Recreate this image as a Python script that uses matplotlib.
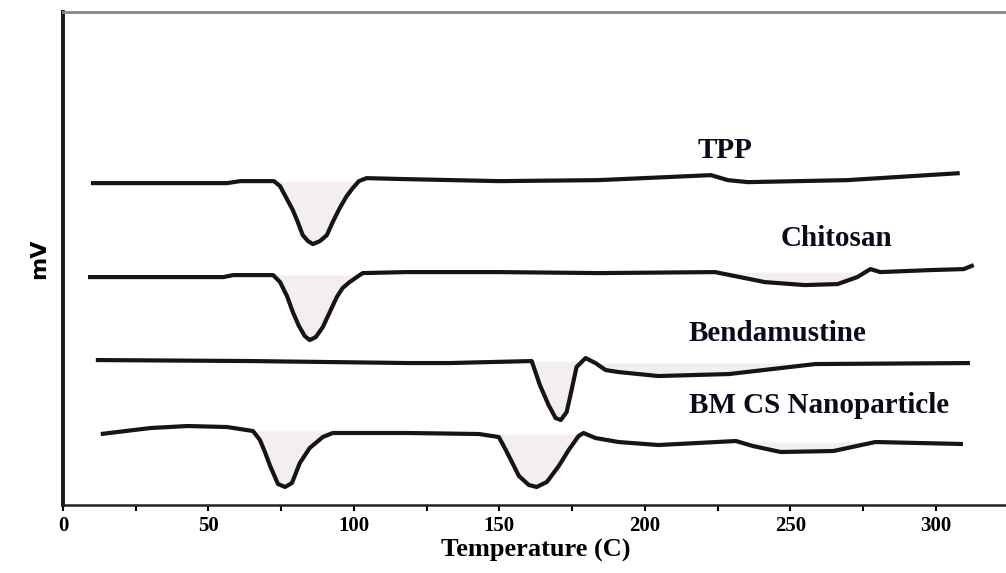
import matplotlib
matplotlib.use('Agg')
import matplotlib.pyplot as plt
import numpy as np

# DSC traces (temperature in C, signal in arbitrary mV units)
t_tpp = [9.6, 56.4, 60.9, 72.5, 74.6, 79.0, 80.7, 82.4, 84.2, 85.9, 88.3, 90.7, 92.7,
         95.1, 97.5, 99.6, 101.7, 104.3, 118.0, 149.8, 184.1, 222.7, 228.5, 235.4,
         269.6, 308.2]
v_tpp = [3.22, 3.22, 3.24, 3.24, 3.19, 2.95, 2.83, 2.70, 2.64, 2.61, 2.64, 2.70, 2.83,
         2.97, 3.09, 3.17, 3.24, 3.27, 3.26, 3.24, 3.25, 3.30, 3.25, 3.23, 3.25, 3.32]

t_chi = [8.6, 55.1, 58.5, 72.2, 74.6, 77.0, 79.0, 81.1, 83.1, 84.8, 86.9, 89.3, 91.7,
         94.1, 96.1, 98.5, 103.0, 118.0, 149.8, 184.1, 224.1, 241.2, 254.9, 266.2,
         273.0, 277.5, 280.9, 298.0, 309.6, 313.0]
v_chi = [2.28, 2.28, 2.30, 2.30, 2.23, 2.09, 1.93, 1.79, 1.69, 1.65, 1.68, 1.78, 1.93,
         2.08, 2.17, 2.23, 2.32, 2.33, 2.33, 2.32, 2.33, 2.23, 2.20, 2.21,
         2.28, 2.36, 2.33, 2.35, 2.36, 2.40]

t_bend = [11.3, 64.3, 119.1, 132.7, 161.1, 163.9, 166.9, 169.3, 171.1, 173.1, 174.8,
          176.5, 179.6, 183.0, 186.5, 190.9, 204.6, 228.9, 258.6, 311.7]
v_bend = [1.45, 1.44, 1.42, 1.42, 1.44, 1.20, 1.00, 0.87, 0.85, 0.93, 1.15,
          1.38, 1.47, 1.42, 1.35, 1.33, 1.29, 1.31, 1.41, 1.42]

t_np = [13.0, 30.1, 42.8, 56.4, 65.3, 67.7, 69.4, 71.2, 73.9, 76.3, 78.7, 81.4, 84.8,
        89.3, 92.7, 119.1, 143.0, 149.8, 152.2, 156.7, 160.1, 162.8, 166.3, 170.4,
        173.8, 177.2, 178.9, 183.0, 190.9, 204.6, 231.3, 237.1, 246.7, 264.8, 279.2,
        309.3]
v_np = [0.71, 0.77, 0.79, 0.78, 0.74, 0.65, 0.53, 0.39, 0.21, 0.18, 0.22, 0.42, 0.57,
        0.68, 0.72, 0.72, 0.71, 0.68, 0.55, 0.29, 0.20, 0.18, 0.23, 0.39,
        0.55, 0.69, 0.72, 0.67, 0.63, 0.60, 0.64, 0.59, 0.53, 0.54, 0.63,
        0.61]

names = ['TPP', 'Chitosan', 'Bendamustine', 'BM CS Nanoparticle']

# shaded peak areas: (start, end, baseline)
shades = [
    [(72.5, 104.3, 3.24)],
    [(72.2, 103.0, 2.30), (224.1, 273.0, 2.33)],
    [(161.1, 179.6, 1.44), (183.0, 258.6, 1.42)],
    [(65.3, 92.7, 0.74), (149.8, 178.9, 0.71), (237.1, 279.2, 0.63)],
]
label_pos = [(227.5, 3.55), (266, 2.67), (245.6, 1.72), (260, 1.00)]

fig = plt.figure(figsize=(10.06, 5.73), dpi=100)
ax = fig.add_axes([0.0626, 0.1187, 0.94, 0.860])

curves = [(t_tpp, v_tpp), (t_chi, v_chi), (t_bend, v_bend), (t_np, v_np)]
for (t, v), sh, name, pos in zip(curves, shades, names, label_pos):
    t = np.array(t)
    v = np.array(v)
    for a, b, lev in sh:
        m = (t >= a) & (t <= b)
        ax.fill_between(t[m], v[m], lev, color='#f4eeee', lw=0)
    ax.plot(t, v, color='#151515', lw=3.0, solid_capstyle='butt',
            solid_joinstyle='round')
    ax.text(pos[0], pos[1], name, ha='center', va='center', fontsize=21,
            fontweight='bold', family='Liberation Serif', color='#0a0a1a')

ax.set_xlim(0, 323)
ax.set_ylim(0, 4.93)
ax.set_xticks(np.arange(0, 301, 50))
ax.set_xticks(np.arange(25, 326, 50), minor=True)
ax.set_yticks([])
ax.tick_params(axis='x', which='both', direction='out', length=4, width=1.5,
               labelsize=15, pad=4)
for lab in ax.get_xticklabels():
    lab.set_family('Liberation Serif')
    lab.set_fontweight('bold')

ax.spines['right'].set_visible(False)
ax.spines['left'].set_linewidth(2.8)
ax.spines['left'].set_color('#1a1a1a')
ax.spines['bottom'].set_linewidth(1.8)
ax.spines['bottom'].set_color('#222222')
ax.spines['top'].set_linewidth(2)
ax.spines['top'].set_color('#888888')

ax.set_xlabel('Temperature (C)', fontsize=19, family='Liberation Serif',
              fontweight='bold', labelpad=2)
ax.set_ylabel('mV', fontsize=16, fontweight='bold', labelpad=10)

fig.savefig('out.png', dpi=100)
